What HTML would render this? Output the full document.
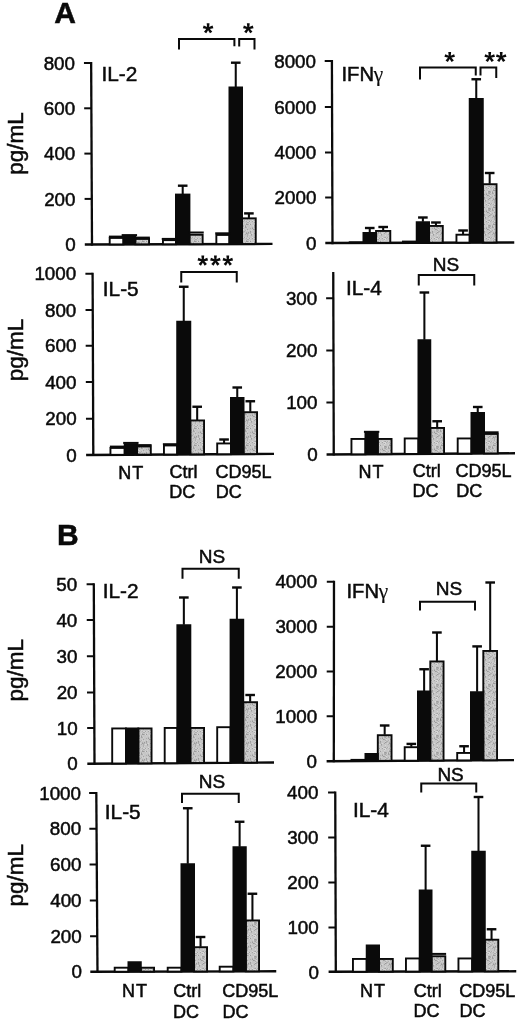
<!DOCTYPE html>
<html><head><meta charset="utf-8"><title>Figure</title>
<style>
html,body{margin:0;padding:0;background:#ffffff;}
body{width:520px;height:1022px;overflow:hidden;font-family:'Liberation Sans', sans-serif;}
svg{display:block;filter:grayscale(1) blur(0.35px);}
svg text{font-family:'Liberation Sans',sans-serif;fill:#0a0a0a;stroke:#0a0a0a;stroke-width:0.5px;}
</style></head>
<body>
<svg width="520" height="1022" viewBox="0 0 520 1022">
<defs>
<pattern id="stip" width="13" height="17" patternUnits="userSpaceOnUse">
<rect width="13" height="17" fill="#c6c6c6"/>
<rect x="0" y="0" width="1" height="1" fill="#d2d2d2"/>
<rect x="1" y="0" width="1" height="1" fill="#d2d2d2"/>
<rect x="2" y="0" width="1" height="1" fill="#a4a4a4"/>
<rect x="3" y="0" width="1" height="1" fill="#d2d2d2"/>
<rect x="5" y="0" width="1" height="1" fill="#a4a4a4"/>
<rect x="6" y="0" width="1" height="1" fill="#d2d2d2"/>
<rect x="7" y="0" width="1" height="1" fill="#d8d8d8"/>
<rect x="8" y="0" width="1" height="1" fill="#d8d8d8"/>
<rect x="9" y="0" width="1" height="1" fill="#adadad"/>
<rect x="12" y="0" width="1" height="1" fill="#b0b0b0"/>
<rect x="0" y="1" width="1" height="1" fill="#adadad"/>
<rect x="1" y="1" width="1" height="1" fill="#adadad"/>
<rect x="2" y="1" width="1" height="1" fill="#d2d2d2"/>
<rect x="7" y="1" width="1" height="1" fill="#adadad"/>
<rect x="8" y="1" width="1" height="1" fill="#d8d8d8"/>
<rect x="4" y="2" width="1" height="1" fill="#d2d2d2"/>
<rect x="7" y="2" width="1" height="1" fill="#d8d8d8"/>
<rect x="8" y="2" width="1" height="1" fill="#cccccc"/>
<rect x="11" y="2" width="1" height="1" fill="#d2d2d2"/>
<rect x="12" y="2" width="1" height="1" fill="#b0b0b0"/>
<rect x="0" y="3" width="1" height="1" fill="#9b9b9b"/>
<rect x="1" y="3" width="1" height="1" fill="#b0b0b0"/>
<rect x="2" y="3" width="1" height="1" fill="#d8d8d8"/>
<rect x="3" y="3" width="1" height="1" fill="#9b9b9b"/>
<rect x="4" y="3" width="1" height="1" fill="#cccccc"/>
<rect x="12" y="3" width="1" height="1" fill="#9b9b9b"/>
<rect x="3" y="4" width="1" height="1" fill="#cccccc"/>
<rect x="5" y="4" width="1" height="1" fill="#cccccc"/>
<rect x="6" y="4" width="1" height="1" fill="#d8d8d8"/>
<rect x="7" y="4" width="1" height="1" fill="#a4a4a4"/>
<rect x="8" y="4" width="1" height="1" fill="#9b9b9b"/>
<rect x="9" y="4" width="1" height="1" fill="#adadad"/>
<rect x="10" y="4" width="1" height="1" fill="#cccccc"/>
<rect x="11" y="4" width="1" height="1" fill="#b0b0b0"/>
<rect x="12" y="4" width="1" height="1" fill="#cccccc"/>
<rect x="3" y="5" width="1" height="1" fill="#cccccc"/>
<rect x="6" y="5" width="1" height="1" fill="#d2d2d2"/>
<rect x="7" y="5" width="1" height="1" fill="#adadad"/>
<rect x="8" y="5" width="1" height="1" fill="#adadad"/>
<rect x="9" y="5" width="1" height="1" fill="#adadad"/>
<rect x="10" y="5" width="1" height="1" fill="#d2d2d2"/>
<rect x="11" y="5" width="1" height="1" fill="#9b9b9b"/>
<rect x="0" y="6" width="1" height="1" fill="#d2d2d2"/>
<rect x="5" y="6" width="1" height="1" fill="#b0b0b0"/>
<rect x="6" y="6" width="1" height="1" fill="#cccccc"/>
<rect x="7" y="6" width="1" height="1" fill="#b0b0b0"/>
<rect x="8" y="6" width="1" height="1" fill="#a4a4a4"/>
<rect x="11" y="6" width="1" height="1" fill="#a4a4a4"/>
<rect x="12" y="6" width="1" height="1" fill="#adadad"/>
<rect x="3" y="7" width="1" height="1" fill="#adadad"/>
<rect x="5" y="7" width="1" height="1" fill="#9b9b9b"/>
<rect x="9" y="7" width="1" height="1" fill="#b0b0b0"/>
<rect x="0" y="8" width="1" height="1" fill="#a4a4a4"/>
<rect x="6" y="8" width="1" height="1" fill="#9b9b9b"/>
<rect x="7" y="8" width="1" height="1" fill="#a4a4a4"/>
<rect x="9" y="8" width="1" height="1" fill="#d8d8d8"/>
<rect x="12" y="8" width="1" height="1" fill="#cccccc"/>
<rect x="1" y="9" width="1" height="1" fill="#d2d2d2"/>
<rect x="4" y="9" width="1" height="1" fill="#d2d2d2"/>
<rect x="8" y="9" width="1" height="1" fill="#adadad"/>
<rect x="11" y="9" width="1" height="1" fill="#b0b0b0"/>
<rect x="12" y="9" width="1" height="1" fill="#d2d2d2"/>
<rect x="3" y="10" width="1" height="1" fill="#9b9b9b"/>
<rect x="8" y="10" width="1" height="1" fill="#d2d2d2"/>
<rect x="9" y="10" width="1" height="1" fill="#b0b0b0"/>
<rect x="10" y="10" width="1" height="1" fill="#adadad"/>
<rect x="1" y="11" width="1" height="1" fill="#9b9b9b"/>
<rect x="3" y="11" width="1" height="1" fill="#a4a4a4"/>
<rect x="8" y="11" width="1" height="1" fill="#9b9b9b"/>
<rect x="9" y="11" width="1" height="1" fill="#b0b0b0"/>
<rect x="12" y="11" width="1" height="1" fill="#adadad"/>
<rect x="0" y="12" width="1" height="1" fill="#adadad"/>
<rect x="1" y="12" width="1" height="1" fill="#b0b0b0"/>
<rect x="3" y="12" width="1" height="1" fill="#b0b0b0"/>
<rect x="5" y="12" width="1" height="1" fill="#d8d8d8"/>
<rect x="7" y="12" width="1" height="1" fill="#a4a4a4"/>
<rect x="10" y="12" width="1" height="1" fill="#d2d2d2"/>
<rect x="12" y="12" width="1" height="1" fill="#9b9b9b"/>
<rect x="0" y="13" width="1" height="1" fill="#adadad"/>
<rect x="2" y="13" width="1" height="1" fill="#d8d8d8"/>
<rect x="3" y="13" width="1" height="1" fill="#d2d2d2"/>
<rect x="4" y="13" width="1" height="1" fill="#9b9b9b"/>
<rect x="11" y="13" width="1" height="1" fill="#adadad"/>
<rect x="0" y="14" width="1" height="1" fill="#b0b0b0"/>
<rect x="4" y="14" width="1" height="1" fill="#adadad"/>
<rect x="8" y="14" width="1" height="1" fill="#d8d8d8"/>
<rect x="0" y="15" width="1" height="1" fill="#adadad"/>
<rect x="1" y="15" width="1" height="1" fill="#d2d2d2"/>
<rect x="5" y="16" width="1" height="1" fill="#d8d8d8"/>
<rect x="7" y="16" width="1" height="1" fill="#b0b0b0"/>
<rect x="8" y="16" width="1" height="1" fill="#a4a4a4"/>
<rect x="9" y="16" width="1" height="1" fill="#cccccc"/>
<rect x="10" y="16" width="1" height="1" fill="#adadad"/>
<rect x="11" y="16" width="1" height="1" fill="#d2d2d2"/>
</pattern>
</defs>
<rect width="520" height="1022" fill="#ffffff"/>
<text x="54.20" y="23.40" font-size="30" text-anchor="start" font-weight="bold" >A</text>
<line x1="91.15" y1="61.90" x2="92.00" y2="245.62" stroke="#0a0a0a" stroke-width="2.3" stroke-linecap="butt"/>
<line x1="84.80" y1="244.50" x2="272.50" y2="243.90" stroke="#0a0a0a" stroke-width="2.4" stroke-linecap="butt"/>
<line x1="83.95" y1="63.00" x2="91.15" y2="63.00" stroke="#0a0a0a" stroke-width="2.0" stroke-linecap="butt"/>
<text x="75.00" y="69.70" font-size="18.8" text-anchor="end" font-weight="normal" >800</text>
<line x1="84.16" y1="108.30" x2="91.36" y2="108.30" stroke="#0a0a0a" stroke-width="2.0" stroke-linecap="butt"/>
<text x="75.17" y="115.00" font-size="18.8" text-anchor="end" font-weight="normal" >600</text>
<line x1="84.37" y1="153.60" x2="91.57" y2="153.60" stroke="#0a0a0a" stroke-width="2.0" stroke-linecap="butt"/>
<text x="75.34" y="160.30" font-size="18.8" text-anchor="end" font-weight="normal" >400</text>
<line x1="84.59" y1="198.90" x2="91.79" y2="198.90" stroke="#0a0a0a" stroke-width="2.0" stroke-linecap="butt"/>
<text x="75.51" y="205.60" font-size="18.8" text-anchor="end" font-weight="normal" >200</text>
<text x="75.68" y="250.90" font-size="18.8" text-anchor="end" font-weight="normal" >0</text>
<rect x="109.70" y="237.95" width="13.75" height="6.45" fill="#ffffff" stroke="#0a0a0a" stroke-width="1.9"/>
<rect x="135.30" y="238.95" width="13.75" height="5.36" fill="url(#stip)" stroke="#0a0a0a" stroke-width="1.9"/>
<rect x="122.50" y="235.50" width="13.75" height="8.86" fill="#0a0a0a"/>
<line x1="108.88" y1="236.60" x2="124.28" y2="236.60" stroke="#0a0a0a" stroke-width="2.0" stroke-linecap="butt"/>
<line x1="121.67" y1="235.10" x2="137.07" y2="235.10" stroke="#0a0a0a" stroke-width="2.0" stroke-linecap="butt"/>
<line x1="134.48" y1="237.60" x2="149.88" y2="237.60" stroke="#0a0a0a" stroke-width="2.0" stroke-linecap="butt"/>
<rect x="162.95" y="240.15" width="13.00" height="4.08" fill="#ffffff" stroke="#0a0a0a" stroke-width="1.9"/>
<rect x="189.45" y="234.75" width="13.20" height="9.39" fill="url(#stip)" stroke="#0a0a0a" stroke-width="1.9"/>
<rect x="175.00" y="193.60" width="15.40" height="50.59" fill="#0a0a0a"/>
<line x1="161.75" y1="238.90" x2="177.15" y2="238.90" stroke="#0a0a0a" stroke-width="2.0" stroke-linecap="butt"/>
<line x1="182.70" y1="185.70" x2="182.70" y2="194.10" stroke="#0a0a0a" stroke-width="2.05" stroke-linecap="butt"/>
<line x1="177.90" y1="185.70" x2="187.50" y2="185.70" stroke="#0a0a0a" stroke-width="2.4" stroke-linecap="butt"/>
<line x1="188.35" y1="232.50" x2="203.75" y2="232.50" stroke="#0a0a0a" stroke-width="2.0" stroke-linecap="butt"/>
<rect x="216.35" y="234.95" width="13.10" height="9.11" fill="#ffffff" stroke="#0a0a0a" stroke-width="1.9"/>
<rect x="242.05" y="218.35" width="13.70" height="25.63" fill="url(#stip)" stroke="#0a0a0a" stroke-width="1.9"/>
<rect x="228.50" y="86.50" width="14.50" height="157.52" fill="#0a0a0a"/>
<line x1="215.20" y1="233.30" x2="230.60" y2="233.30" stroke="#0a0a0a" stroke-width="2.0" stroke-linecap="butt"/>
<line x1="235.75" y1="62.70" x2="235.75" y2="87.00" stroke="#0a0a0a" stroke-width="2.05" stroke-linecap="butt"/>
<line x1="230.95" y1="62.70" x2="240.55" y2="62.70" stroke="#0a0a0a" stroke-width="2.4" stroke-linecap="butt"/>
<line x1="248.90" y1="213.40" x2="248.90" y2="217.90" stroke="#0a0a0a" stroke-width="2.05" stroke-linecap="butt"/>
<line x1="244.10" y1="213.40" x2="253.70" y2="213.40" stroke="#0a0a0a" stroke-width="2.4" stroke-linecap="butt"/>
<polyline points="179.00,49.60 179.00,39.00 234.40,39.00 234.40,46.20" fill="none" stroke="#0a0a0a" stroke-width="2.0" stroke-linejoin="miter"/>
<polyline points="239.20,46.40 239.20,39.00 254.50,39.00 254.50,49.40" fill="none" stroke="#0a0a0a" stroke-width="2.0" stroke-linejoin="miter"/>
<polygon points="207.15,28.40 206.70,23.30 209.50,23.30 209.05,28.40" fill="#0a0a0a"/>
<polygon points="207.81,29.30 202.82,28.16 203.68,25.49 208.39,27.50" fill="#0a0a0a"/>
<polygon points="208.87,28.96 206.23,33.35 203.97,31.70 207.33,27.84" fill="#0a0a0a"/>
<polygon points="208.87,27.84 212.23,31.70 209.97,33.35 207.33,28.96" fill="#0a0a0a"/>
<polygon points="207.81,27.50 212.52,25.49 213.38,28.16 208.39,29.30" fill="#0a0a0a"/>
<circle cx="208.10" cy="28.40" r="1.55" fill="#0a0a0a"/>
<polygon points="247.35,28.40 246.90,23.30 249.70,23.30 249.25,28.40" fill="#0a0a0a"/>
<polygon points="248.01,29.30 243.02,28.16 243.88,25.49 248.59,27.50" fill="#0a0a0a"/>
<polygon points="249.07,28.96 246.43,33.35 244.17,31.70 247.53,27.84" fill="#0a0a0a"/>
<polygon points="249.07,27.84 252.43,31.70 250.17,33.35 247.53,28.96" fill="#0a0a0a"/>
<polygon points="248.01,27.50 252.72,25.49 253.58,28.16 248.59,29.30" fill="#0a0a0a"/>
<circle cx="248.30" cy="28.40" r="1.55" fill="#0a0a0a"/>
<text x="101.40" y="81.30" font-size="20.8" text-anchor="start" font-weight="normal" >IL-2</text>
<text transform="translate(22.60,143.50) rotate(-90)" font-size="22.5" text-anchor="middle">pg/mL</text>
<line x1="331.90" y1="59.90" x2="332.50" y2="244.13" stroke="#0a0a0a" stroke-width="2.3" stroke-linecap="butt"/>
<line x1="325.30" y1="243.00" x2="514.25" y2="242.50" stroke="#0a0a0a" stroke-width="2.4" stroke-linecap="butt"/>
<line x1="324.70" y1="61.00" x2="331.90" y2="61.00" stroke="#0a0a0a" stroke-width="2.0" stroke-linecap="butt"/>
<text x="316.00" y="67.70" font-size="18.8" text-anchor="end" font-weight="normal" >8000</text>
<line x1="324.85" y1="107.00" x2="332.05" y2="107.00" stroke="#0a0a0a" stroke-width="2.0" stroke-linecap="butt"/>
<text x="316.12" y="113.70" font-size="18.8" text-anchor="end" font-weight="normal" >6000</text>
<line x1="325.00" y1="152.50" x2="332.20" y2="152.50" stroke="#0a0a0a" stroke-width="2.0" stroke-linecap="butt"/>
<text x="316.24" y="159.20" font-size="18.8" text-anchor="end" font-weight="normal" >4000</text>
<line x1="325.15" y1="197.50" x2="332.35" y2="197.50" stroke="#0a0a0a" stroke-width="2.0" stroke-linecap="butt"/>
<text x="316.36" y="204.20" font-size="18.8" text-anchor="end" font-weight="normal" >2000</text>
<text x="316.48" y="249.70" font-size="18.8" text-anchor="end" font-weight="normal" >0</text>
<rect x="348.75" y="241.30" width="15.65" height="1.62" fill="#0a0a0a"/>
<rect x="376.05" y="230.95" width="14.25" height="11.90" fill="url(#stip)" stroke="#0a0a0a" stroke-width="1.9"/>
<rect x="362.50" y="232.00" width="14.50" height="10.88" fill="#0a0a0a"/>
<line x1="369.75" y1="228.00" x2="369.75" y2="232.50" stroke="#0a0a0a" stroke-width="2.05" stroke-linecap="butt"/>
<line x1="364.95" y1="228.00" x2="374.55" y2="228.00" stroke="#0a0a0a" stroke-width="2.4" stroke-linecap="butt"/>
<line x1="383.18" y1="227.00" x2="383.18" y2="230.50" stroke="#0a0a0a" stroke-width="2.05" stroke-linecap="butt"/>
<line x1="378.38" y1="227.00" x2="387.98" y2="227.00" stroke="#0a0a0a" stroke-width="2.4" stroke-linecap="butt"/>
<rect x="402.00" y="240.60" width="15.65" height="2.18" fill="#0a0a0a"/>
<rect x="429.05" y="225.95" width="13.75" height="16.76" fill="url(#stip)" stroke="#0a0a0a" stroke-width="1.9"/>
<rect x="415.75" y="221.25" width="14.25" height="21.49" fill="#0a0a0a"/>
<line x1="422.88" y1="217.50" x2="422.88" y2="221.75" stroke="#0a0a0a" stroke-width="2.05" stroke-linecap="butt"/>
<line x1="418.07" y1="217.50" x2="427.68" y2="217.50" stroke="#0a0a0a" stroke-width="2.4" stroke-linecap="butt"/>
<line x1="435.93" y1="222.50" x2="435.93" y2="225.50" stroke="#0a0a0a" stroke-width="2.05" stroke-linecap="butt"/>
<line x1="431.12" y1="222.50" x2="440.73" y2="222.50" stroke="#0a0a0a" stroke-width="2.4" stroke-linecap="butt"/>
<rect x="456.45" y="234.70" width="13.25" height="7.93" fill="#ffffff" stroke="#0a0a0a" stroke-width="1.9"/>
<rect x="482.80" y="184.20" width="13.75" height="58.36" fill="url(#stip)" stroke="#0a0a0a" stroke-width="1.9"/>
<rect x="468.75" y="98.00" width="15.00" height="144.60" fill="#0a0a0a"/>
<line x1="463.07" y1="230.50" x2="463.07" y2="234.25" stroke="#0a0a0a" stroke-width="2.05" stroke-linecap="butt"/>
<line x1="458.27" y1="230.50" x2="467.88" y2="230.50" stroke="#0a0a0a" stroke-width="2.4" stroke-linecap="butt"/>
<line x1="476.25" y1="79.25" x2="476.25" y2="98.50" stroke="#0a0a0a" stroke-width="2.05" stroke-linecap="butt"/>
<line x1="471.45" y1="79.25" x2="481.05" y2="79.25" stroke="#0a0a0a" stroke-width="2.4" stroke-linecap="butt"/>
<line x1="489.68" y1="173.00" x2="489.68" y2="183.75" stroke="#0a0a0a" stroke-width="2.05" stroke-linecap="butt"/>
<line x1="484.88" y1="173.00" x2="494.48" y2="173.00" stroke="#0a0a0a" stroke-width="2.4" stroke-linecap="butt"/>
<polyline points="420.00,79.50 420.00,67.50 475.75,67.50 475.75,75.50" fill="none" stroke="#0a0a0a" stroke-width="2.0" stroke-linejoin="miter"/>
<polyline points="480.50,75.50 480.50,67.50 496.25,67.50 496.25,78.00" fill="none" stroke="#0a0a0a" stroke-width="2.0" stroke-linejoin="miter"/>
<polygon points="448.75,57.10 448.30,52.00 451.10,52.00 450.65,57.10" fill="#0a0a0a"/>
<polygon points="449.41,58.00 444.42,56.86 445.28,54.19 449.99,56.20" fill="#0a0a0a"/>
<polygon points="450.47,57.66 447.83,62.05 445.57,60.40 448.93,56.54" fill="#0a0a0a"/>
<polygon points="450.47,56.54 453.83,60.40 451.57,62.05 448.93,57.66" fill="#0a0a0a"/>
<polygon points="449.41,56.20 454.12,54.19 454.98,56.86 449.99,58.00" fill="#0a0a0a"/>
<circle cx="449.70" cy="57.10" r="1.55" fill="#0a0a0a"/>
<polygon points="488.75,57.10 488.30,52.00 491.10,52.00 490.65,57.10" fill="#0a0a0a"/>
<polygon points="489.41,58.00 484.42,56.86 485.28,54.19 489.99,56.20" fill="#0a0a0a"/>
<polygon points="490.47,57.66 487.83,62.05 485.57,60.40 488.93,56.54" fill="#0a0a0a"/>
<polygon points="490.47,56.54 493.83,60.40 491.57,62.05 488.93,57.66" fill="#0a0a0a"/>
<polygon points="489.41,56.20 494.12,54.19 494.98,56.86 489.99,58.00" fill="#0a0a0a"/>
<circle cx="489.70" cy="57.10" r="1.55" fill="#0a0a0a"/>
<polygon points="500.25,57.10 499.80,52.00 502.60,52.00 502.15,57.10" fill="#0a0a0a"/>
<polygon points="500.91,58.00 495.92,56.86 496.78,54.19 501.49,56.20" fill="#0a0a0a"/>
<polygon points="501.97,57.66 499.33,62.05 497.07,60.40 500.43,56.54" fill="#0a0a0a"/>
<polygon points="501.97,56.54 505.33,60.40 503.07,62.05 500.43,57.66" fill="#0a0a0a"/>
<polygon points="500.91,56.20 505.62,54.19 506.48,56.86 501.49,58.00" fill="#0a0a0a"/>
<circle cx="501.20" cy="57.10" r="1.55" fill="#0a0a0a"/>
<text x="341.5" y="81.4" font-size="20.2">IFN<tspan dx="-0.6" stroke-width="0.1" font-family="Liberation Serif, serif" font-size="22">γ</tspan></text>
<line x1="92.60" y1="272.65" x2="93.30" y2="456.10" stroke="#0a0a0a" stroke-width="2.3" stroke-linecap="butt"/>
<line x1="86.10" y1="455.00" x2="274.00" y2="453.90" stroke="#0a0a0a" stroke-width="2.4" stroke-linecap="butt"/>
<line x1="85.40" y1="273.75" x2="92.60" y2="273.75" stroke="#0a0a0a" stroke-width="2.0" stroke-linecap="butt"/>
<text x="76.20" y="280.45" font-size="18.8" text-anchor="end" font-weight="normal" >1000</text>
<line x1="85.54" y1="310.00" x2="92.74" y2="310.00" stroke="#0a0a0a" stroke-width="2.0" stroke-linecap="butt"/>
<text x="76.31" y="316.70" font-size="18.8" text-anchor="end" font-weight="normal" >800</text>
<line x1="85.68" y1="345.75" x2="92.88" y2="345.75" stroke="#0a0a0a" stroke-width="2.0" stroke-linecap="butt"/>
<text x="76.42" y="352.45" font-size="18.8" text-anchor="end" font-weight="normal" >600</text>
<line x1="85.82" y1="382.00" x2="93.02" y2="382.00" stroke="#0a0a0a" stroke-width="2.0" stroke-linecap="butt"/>
<text x="76.53" y="388.70" font-size="18.8" text-anchor="end" font-weight="normal" >400</text>
<line x1="85.96" y1="418.75" x2="93.16" y2="418.75" stroke="#0a0a0a" stroke-width="2.0" stroke-linecap="butt"/>
<text x="76.65" y="425.45" font-size="18.8" text-anchor="end" font-weight="normal" >200</text>
<text x="76.76" y="461.70" font-size="18.8" text-anchor="end" font-weight="normal" >0</text>
<rect x="110.45" y="447.95" width="14.25" height="6.86" fill="#ffffff" stroke="#0a0a0a" stroke-width="1.9"/>
<rect x="137.05" y="446.45" width="13.75" height="8.21" fill="url(#stip)" stroke="#0a0a0a" stroke-width="1.9"/>
<rect x="123.75" y="443.25" width="14.25" height="11.48" fill="#0a0a0a"/>
<line x1="109.88" y1="446.60" x2="125.28" y2="446.60" stroke="#0a0a0a" stroke-width="2.0" stroke-linecap="butt"/>
<line x1="123.17" y1="442.90" x2="138.57" y2="442.90" stroke="#0a0a0a" stroke-width="2.0" stroke-linecap="butt"/>
<line x1="136.23" y1="445.10" x2="151.62" y2="445.10" stroke="#0a0a0a" stroke-width="2.0" stroke-linecap="butt"/>
<rect x="163.95" y="445.45" width="13.25" height="9.05" fill="#ffffff" stroke="#0a0a0a" stroke-width="1.9"/>
<rect x="190.30" y="420.45" width="13.75" height="33.90" fill="url(#stip)" stroke="#0a0a0a" stroke-width="1.9"/>
<rect x="176.25" y="320.75" width="15.00" height="133.68" fill="#0a0a0a"/>
<line x1="162.88" y1="444.20" x2="178.27" y2="444.20" stroke="#0a0a0a" stroke-width="2.0" stroke-linecap="butt"/>
<line x1="183.75" y1="286.75" x2="183.75" y2="321.25" stroke="#0a0a0a" stroke-width="2.05" stroke-linecap="butt"/>
<line x1="178.95" y1="286.75" x2="188.55" y2="286.75" stroke="#0a0a0a" stroke-width="2.4" stroke-linecap="butt"/>
<line x1="197.18" y1="406.75" x2="197.18" y2="420.00" stroke="#0a0a0a" stroke-width="2.05" stroke-linecap="butt"/>
<line x1="192.38" y1="406.75" x2="201.98" y2="406.75" stroke="#0a0a0a" stroke-width="2.4" stroke-linecap="butt"/>
<rect x="217.20" y="443.45" width="13.75" height="10.74" fill="#ffffff" stroke="#0a0a0a" stroke-width="1.9"/>
<rect x="243.55" y="412.20" width="13.50" height="41.84" fill="url(#stip)" stroke="#0a0a0a" stroke-width="1.9"/>
<rect x="230.00" y="397.00" width="14.50" height="57.11" fill="#0a0a0a"/>
<line x1="224.07" y1="439.50" x2="224.07" y2="443.00" stroke="#0a0a0a" stroke-width="2.05" stroke-linecap="butt"/>
<line x1="219.27" y1="439.50" x2="228.88" y2="439.50" stroke="#0a0a0a" stroke-width="2.4" stroke-linecap="butt"/>
<line x1="237.25" y1="387.50" x2="237.25" y2="397.50" stroke="#0a0a0a" stroke-width="2.05" stroke-linecap="butt"/>
<line x1="232.45" y1="387.50" x2="242.05" y2="387.50" stroke="#0a0a0a" stroke-width="2.4" stroke-linecap="butt"/>
<line x1="250.30" y1="401.25" x2="250.30" y2="411.75" stroke="#0a0a0a" stroke-width="2.05" stroke-linecap="butt"/>
<line x1="245.50" y1="401.25" x2="255.10" y2="401.25" stroke="#0a0a0a" stroke-width="2.4" stroke-linecap="butt"/>
<polyline points="181.25,282.50 181.25,272.00 236.75,272.00 236.75,282.50" fill="none" stroke="#0a0a0a" stroke-width="2.0" stroke-linejoin="miter"/>
<polygon points="201.85,260.70 201.40,255.60 204.20,255.60 203.75,260.70" fill="#0a0a0a"/>
<polygon points="202.51,261.60 197.52,260.46 198.38,257.79 203.09,259.80" fill="#0a0a0a"/>
<polygon points="203.57,261.26 200.93,265.65 198.67,264.00 202.03,260.14" fill="#0a0a0a"/>
<polygon points="203.57,260.14 206.93,264.00 204.67,265.65 202.03,261.26" fill="#0a0a0a"/>
<polygon points="202.51,259.80 207.22,257.79 208.08,260.46 203.09,261.60" fill="#0a0a0a"/>
<circle cx="202.80" cy="260.70" r="1.55" fill="#0a0a0a"/>
<polygon points="214.45,260.70 214.00,255.60 216.80,255.60 216.35,260.70" fill="#0a0a0a"/>
<polygon points="215.11,261.60 210.12,260.46 210.98,257.79 215.69,259.80" fill="#0a0a0a"/>
<polygon points="216.17,261.26 213.53,265.65 211.27,264.00 214.63,260.14" fill="#0a0a0a"/>
<polygon points="216.17,260.14 219.53,264.00 217.27,265.65 214.63,261.26" fill="#0a0a0a"/>
<polygon points="215.11,259.80 219.82,257.79 220.68,260.46 215.69,261.60" fill="#0a0a0a"/>
<circle cx="215.40" cy="260.70" r="1.55" fill="#0a0a0a"/>
<polygon points="226.85,260.70 226.40,255.60 229.20,255.60 228.75,260.70" fill="#0a0a0a"/>
<polygon points="227.51,261.60 222.52,260.46 223.38,257.79 228.09,259.80" fill="#0a0a0a"/>
<polygon points="228.57,261.26 225.93,265.65 223.67,264.00 227.03,260.14" fill="#0a0a0a"/>
<polygon points="228.57,260.14 231.93,264.00 229.67,265.65 227.03,261.26" fill="#0a0a0a"/>
<polygon points="227.51,259.80 232.22,257.79 233.08,260.46 228.09,261.60" fill="#0a0a0a"/>
<circle cx="227.80" cy="260.70" r="1.55" fill="#0a0a0a"/>
<text x="102.80" y="296.00" font-size="20.8" text-anchor="start" font-weight="normal" >IL-5</text>
<text transform="translate(22.60,350.00) rotate(-90)" font-size="22.5" text-anchor="middle">pg/mL</text>
<text x="131.25" y="478.60" font-size="18" text-anchor="middle" font-weight="normal" letter-spacing="1">NT</text>
<text x="169.60" y="478.20" font-size="18" text-anchor="start" font-weight="normal" >Ctrl</text>
<text x="169.20" y="497.60" font-size="18" text-anchor="start" font-weight="normal" >DC</text>
<text x="215.40" y="478.20" font-size="18" text-anchor="start" font-weight="normal" >CD95L</text>
<text x="215.70" y="497.60" font-size="18" text-anchor="start" font-weight="normal" >DC</text>
<line x1="333.25" y1="272.00" x2="333.75" y2="455.60" stroke="#0a0a0a" stroke-width="2.3" stroke-linecap="butt"/>
<line x1="326.55" y1="454.50" x2="515.00" y2="453.30" stroke="#0a0a0a" stroke-width="2.4" stroke-linecap="butt"/>
<line x1="326.12" y1="298.25" x2="333.32" y2="298.25" stroke="#0a0a0a" stroke-width="2.0" stroke-linecap="butt"/>
<text x="317.26" y="304.95" font-size="18.8" text-anchor="end" font-weight="normal" >300</text>
<line x1="326.27" y1="350.50" x2="333.47" y2="350.50" stroke="#0a0a0a" stroke-width="2.0" stroke-linecap="butt"/>
<text x="317.37" y="357.20" font-size="18.8" text-anchor="end" font-weight="normal" >200</text>
<line x1="326.41" y1="402.50" x2="333.61" y2="402.50" stroke="#0a0a0a" stroke-width="2.0" stroke-linecap="butt"/>
<text x="317.49" y="409.20" font-size="18.8" text-anchor="end" font-weight="normal" >100</text>
<text x="317.60" y="461.20" font-size="18.8" text-anchor="end" font-weight="normal" >0</text>
<rect x="351.45" y="438.95" width="14.00" height="15.34" fill="#ffffff" stroke="#0a0a0a" stroke-width="1.9"/>
<rect x="377.80" y="438.95" width="13.75" height="15.18" fill="url(#stip)" stroke="#0a0a0a" stroke-width="1.9"/>
<rect x="364.50" y="432.00" width="14.25" height="22.21" fill="#0a0a0a"/>
<line x1="363.93" y1="431.80" x2="379.32" y2="431.80" stroke="#0a0a0a" stroke-width="2.0" stroke-linecap="butt"/>
<rect x="404.70" y="438.45" width="13.75" height="15.51" fill="#ffffff" stroke="#0a0a0a" stroke-width="1.9"/>
<rect x="430.30" y="427.95" width="13.75" height="25.84" fill="url(#stip)" stroke="#0a0a0a" stroke-width="1.9"/>
<rect x="417.50" y="339.25" width="13.75" height="114.63" fill="#0a0a0a"/>
<line x1="424.38" y1="292.50" x2="424.38" y2="339.75" stroke="#0a0a0a" stroke-width="2.05" stroke-linecap="butt"/>
<line x1="419.57" y1="292.50" x2="429.18" y2="292.50" stroke="#0a0a0a" stroke-width="2.4" stroke-linecap="butt"/>
<line x1="437.18" y1="421.25" x2="437.18" y2="427.50" stroke="#0a0a0a" stroke-width="2.05" stroke-linecap="butt"/>
<line x1="432.38" y1="421.25" x2="441.98" y2="421.25" stroke="#0a0a0a" stroke-width="2.4" stroke-linecap="butt"/>
<rect x="457.70" y="438.45" width="13.75" height="15.17" fill="#ffffff" stroke="#0a0a0a" stroke-width="1.9"/>
<rect x="484.05" y="433.95" width="13.75" height="19.50" fill="url(#stip)" stroke="#0a0a0a" stroke-width="1.9"/>
<rect x="470.50" y="412.00" width="14.50" height="41.54" fill="#0a0a0a"/>
<line x1="477.75" y1="407.00" x2="477.75" y2="412.50" stroke="#0a0a0a" stroke-width="2.05" stroke-linecap="butt"/>
<line x1="472.95" y1="407.00" x2="482.55" y2="407.00" stroke="#0a0a0a" stroke-width="2.4" stroke-linecap="butt"/>
<line x1="483.23" y1="432.30" x2="498.62" y2="432.30" stroke="#0a0a0a" stroke-width="2.0" stroke-linecap="butt"/>
<polyline points="418.75,285.50 418.75,275.00 474.25,275.00 474.25,285.50" fill="none" stroke="#0a0a0a" stroke-width="2.0" stroke-linejoin="miter"/>
<text x="445.90" y="270.80" font-size="19" text-anchor="middle" font-weight="normal" >NS</text>
<text x="346.00" y="294.80" font-size="20.8" text-anchor="start" font-weight="normal" >IL-4</text>
<text x="371.50" y="478.20" font-size="18" text-anchor="middle" font-weight="normal" letter-spacing="1">NT</text>
<text x="412.80" y="476.90" font-size="18" text-anchor="start" font-weight="normal" >Ctrl</text>
<text x="412.40" y="497.10" font-size="18" text-anchor="start" font-weight="normal" >DC</text>
<text x="455.40" y="476.90" font-size="18" text-anchor="start" font-weight="normal" >CD95L</text>
<text x="456.20" y="497.10" font-size="18" text-anchor="start" font-weight="normal" >DC</text>
<text x="56.90" y="545.00" font-size="30" text-anchor="start" font-weight="bold" >B</text>
<line x1="93.80" y1="583.15" x2="94.50" y2="764.80" stroke="#0a0a0a" stroke-width="2.3" stroke-linecap="butt"/>
<line x1="87.30" y1="763.70" x2="274.00" y2="762.50" stroke="#0a0a0a" stroke-width="2.4" stroke-linecap="butt"/>
<line x1="86.60" y1="584.25" x2="93.80" y2="584.25" stroke="#0a0a0a" stroke-width="2.0" stroke-linecap="butt"/>
<text x="77.20" y="590.95" font-size="18.8" text-anchor="end" font-weight="normal" >50</text>
<line x1="86.74" y1="620.00" x2="93.94" y2="620.00" stroke="#0a0a0a" stroke-width="2.0" stroke-linecap="butt"/>
<text x="77.31" y="626.70" font-size="18.8" text-anchor="end" font-weight="normal" >40</text>
<line x1="86.88" y1="656.25" x2="94.08" y2="656.25" stroke="#0a0a0a" stroke-width="2.0" stroke-linecap="butt"/>
<text x="77.42" y="662.95" font-size="18.8" text-anchor="end" font-weight="normal" >30</text>
<line x1="87.02" y1="692.50" x2="94.22" y2="692.50" stroke="#0a0a0a" stroke-width="2.0" stroke-linecap="butt"/>
<text x="77.54" y="699.20" font-size="18.8" text-anchor="end" font-weight="normal" >20</text>
<line x1="87.16" y1="728.00" x2="94.36" y2="728.00" stroke="#0a0a0a" stroke-width="2.0" stroke-linecap="butt"/>
<text x="77.65" y="734.70" font-size="18.8" text-anchor="end" font-weight="normal" >10</text>
<text x="77.76" y="770.45" font-size="18.8" text-anchor="end" font-weight="normal" >0</text>
<rect x="112.20" y="728.45" width="13.75" height="35.04" fill="#ffffff" stroke="#0a0a0a" stroke-width="1.9"/>
<rect x="138.30" y="728.45" width="13.25" height="34.88" fill="url(#stip)" stroke="#0a0a0a" stroke-width="1.9"/>
<rect x="125.00" y="727.50" width="14.25" height="35.91" fill="#0a0a0a"/>
<rect x="164.70" y="727.95" width="12.65" height="35.21" fill="#ffffff" stroke="#0a0a0a" stroke-width="1.9"/>
<rect x="190.35" y="727.95" width="13.70" height="35.04" fill="url(#stip)" stroke="#0a0a0a" stroke-width="1.9"/>
<rect x="176.40" y="624.25" width="14.90" height="138.83" fill="#0a0a0a"/>
<line x1="183.85" y1="597.50" x2="183.85" y2="624.75" stroke="#0a0a0a" stroke-width="2.05" stroke-linecap="butt"/>
<line x1="179.05" y1="597.50" x2="188.65" y2="597.50" stroke="#0a0a0a" stroke-width="2.4" stroke-linecap="butt"/>
<rect x="217.20" y="727.20" width="13.35" height="35.62" fill="#ffffff" stroke="#0a0a0a" stroke-width="1.9"/>
<rect x="243.25" y="702.20" width="13.80" height="60.45" fill="url(#stip)" stroke="#0a0a0a" stroke-width="1.9"/>
<rect x="229.60" y="618.75" width="14.60" height="143.99" fill="#0a0a0a"/>
<line x1="236.90" y1="587.50" x2="236.90" y2="619.25" stroke="#0a0a0a" stroke-width="2.05" stroke-linecap="butt"/>
<line x1="232.10" y1="587.50" x2="241.70" y2="587.50" stroke="#0a0a0a" stroke-width="2.4" stroke-linecap="butt"/>
<line x1="250.15" y1="695.00" x2="250.15" y2="701.75" stroke="#0a0a0a" stroke-width="2.05" stroke-linecap="butt"/>
<line x1="245.35" y1="695.00" x2="254.95" y2="695.00" stroke="#0a0a0a" stroke-width="2.4" stroke-linecap="butt"/>
<polyline points="182.50,578.75 182.50,568.75 238.75,568.75 238.75,578.75" fill="none" stroke="#0a0a0a" stroke-width="2.0" stroke-linejoin="miter"/>
<text x="211.90" y="563.00" font-size="19" text-anchor="middle" font-weight="normal" >NS</text>
<text x="102.70" y="598.00" font-size="20.8" text-anchor="start" font-weight="normal" >IL-2</text>
<text transform="translate(22.60,670.30) rotate(-90)" font-size="22.5" text-anchor="middle">pg/mL</text>
<line x1="334.00" y1="580.65" x2="333.80" y2="762.31" stroke="#0a0a0a" stroke-width="2.3" stroke-linecap="butt"/>
<line x1="326.60" y1="761.20" x2="514.00" y2="760.10" stroke="#0a0a0a" stroke-width="2.4" stroke-linecap="butt"/>
<line x1="326.80" y1="581.75" x2="334.00" y2="581.75" stroke="#0a0a0a" stroke-width="2.0" stroke-linecap="butt"/>
<text x="317.20" y="588.45" font-size="18.8" text-anchor="end" font-weight="normal" >4000</text>
<line x1="326.75" y1="626.75" x2="333.95" y2="626.75" stroke="#0a0a0a" stroke-width="2.0" stroke-linecap="butt"/>
<text x="317.16" y="633.45" font-size="18.8" text-anchor="end" font-weight="normal" >3000</text>
<line x1="326.70" y1="671.50" x2="333.90" y2="671.50" stroke="#0a0a0a" stroke-width="2.0" stroke-linecap="butt"/>
<text x="317.12" y="678.20" font-size="18.8" text-anchor="end" font-weight="normal" >2000</text>
<line x1="326.65" y1="716.25" x2="333.85" y2="716.25" stroke="#0a0a0a" stroke-width="2.0" stroke-linecap="butt"/>
<text x="317.08" y="722.95" font-size="18.8" text-anchor="end" font-weight="normal" >1000</text>
<text x="317.04" y="767.95" font-size="18.8" text-anchor="end" font-weight="normal" >0</text>
<rect x="350.50" y="758.90" width="15.90" height="2.11" fill="#0a0a0a"/>
<rect x="377.80" y="735.20" width="13.75" height="25.66" fill="url(#stip)" stroke="#0a0a0a" stroke-width="1.9"/>
<rect x="364.50" y="753.00" width="14.25" height="7.94" fill="#0a0a0a"/>
<line x1="384.68" y1="725.50" x2="384.68" y2="734.75" stroke="#0a0a0a" stroke-width="2.05" stroke-linecap="butt"/>
<line x1="379.88" y1="725.50" x2="389.48" y2="725.50" stroke="#0a0a0a" stroke-width="2.4" stroke-linecap="butt"/>
<rect x="404.70" y="747.20" width="13.25" height="13.50" fill="#ffffff" stroke="#0a0a0a" stroke-width="1.9"/>
<rect x="430.30" y="661.45" width="13.25" height="99.10" fill="url(#stip)" stroke="#0a0a0a" stroke-width="1.9"/>
<rect x="417.00" y="690.50" width="14.25" height="70.13" fill="#0a0a0a"/>
<line x1="411.32" y1="743.90" x2="411.32" y2="746.75" stroke="#0a0a0a" stroke-width="2.05" stroke-linecap="butt"/>
<line x1="406.52" y1="743.90" x2="416.12" y2="743.90" stroke="#0a0a0a" stroke-width="2.4" stroke-linecap="butt"/>
<line x1="424.12" y1="669.25" x2="424.12" y2="691.00" stroke="#0a0a0a" stroke-width="2.05" stroke-linecap="butt"/>
<line x1="419.32" y1="669.25" x2="428.93" y2="669.25" stroke="#0a0a0a" stroke-width="2.4" stroke-linecap="butt"/>
<line x1="436.93" y1="632.50" x2="436.93" y2="661.00" stroke="#0a0a0a" stroke-width="2.05" stroke-linecap="butt"/>
<line x1="432.12" y1="632.50" x2="441.73" y2="632.50" stroke="#0a0a0a" stroke-width="2.4" stroke-linecap="butt"/>
<rect x="457.20" y="752.95" width="13.75" height="7.44" fill="#ffffff" stroke="#0a0a0a" stroke-width="1.9"/>
<rect x="483.30" y="650.95" width="13.75" height="109.29" fill="url(#stip)" stroke="#0a0a0a" stroke-width="1.9"/>
<rect x="470.00" y="691.25" width="14.25" height="69.07" fill="#0a0a0a"/>
<line x1="464.07" y1="746.25" x2="464.07" y2="752.50" stroke="#0a0a0a" stroke-width="2.05" stroke-linecap="butt"/>
<line x1="459.27" y1="746.25" x2="468.88" y2="746.25" stroke="#0a0a0a" stroke-width="2.4" stroke-linecap="butt"/>
<line x1="477.12" y1="646.40" x2="477.12" y2="691.75" stroke="#0a0a0a" stroke-width="2.05" stroke-linecap="butt"/>
<line x1="472.32" y1="646.40" x2="481.93" y2="646.40" stroke="#0a0a0a" stroke-width="2.4" stroke-linecap="butt"/>
<line x1="490.18" y1="582.50" x2="490.18" y2="650.50" stroke="#0a0a0a" stroke-width="2.05" stroke-linecap="butt"/>
<line x1="485.38" y1="582.50" x2="494.98" y2="582.50" stroke="#0a0a0a" stroke-width="2.4" stroke-linecap="butt"/>
<polyline points="420.00,610.50 420.00,601.75 475.00,601.75 475.00,610.50" fill="none" stroke="#0a0a0a" stroke-width="2.0" stroke-linejoin="miter"/>
<text x="448.90" y="595.00" font-size="19" text-anchor="middle" font-weight="normal" >NS</text>
<text x="346.5" y="598.1" font-size="20.2">IFN<tspan dx="-0.6" stroke-width="0.1" font-family="Liberation Serif, serif" font-size="22">γ</tspan></text>
<line x1="96.30" y1="791.90" x2="97.50" y2="972.93" stroke="#0a0a0a" stroke-width="2.3" stroke-linecap="butt"/>
<line x1="90.30" y1="971.80" x2="276.25" y2="971.30" stroke="#0a0a0a" stroke-width="2.4" stroke-linecap="butt"/>
<line x1="89.10" y1="793.00" x2="96.30" y2="793.00" stroke="#0a0a0a" stroke-width="2.0" stroke-linecap="butt"/>
<text x="81.00" y="799.70" font-size="18.8" text-anchor="end" font-weight="normal" >1000</text>
<line x1="89.34" y1="828.75" x2="96.54" y2="828.75" stroke="#0a0a0a" stroke-width="2.0" stroke-linecap="butt"/>
<text x="81.19" y="835.45" font-size="18.8" text-anchor="end" font-weight="normal" >800</text>
<line x1="89.58" y1="864.50" x2="96.78" y2="864.50" stroke="#0a0a0a" stroke-width="2.0" stroke-linecap="butt"/>
<text x="81.38" y="871.20" font-size="18.8" text-anchor="end" font-weight="normal" >600</text>
<line x1="89.82" y1="900.50" x2="97.02" y2="900.50" stroke="#0a0a0a" stroke-width="2.0" stroke-linecap="butt"/>
<text x="81.58" y="907.20" font-size="18.8" text-anchor="end" font-weight="normal" >400</text>
<line x1="90.06" y1="936.25" x2="97.26" y2="936.25" stroke="#0a0a0a" stroke-width="2.0" stroke-linecap="butt"/>
<text x="81.77" y="942.95" font-size="18.8" text-anchor="end" font-weight="normal" >200</text>
<text x="81.96" y="978.45" font-size="18.8" text-anchor="end" font-weight="normal" >0</text>
<rect x="114.70" y="967.70" width="13.75" height="4.01" fill="#ffffff" stroke="#0a0a0a" stroke-width="1.9"/>
<rect x="140.80" y="967.70" width="13.25" height="3.94" fill="url(#stip)" stroke="#0a0a0a" stroke-width="1.9"/>
<rect x="127.50" y="961.25" width="14.25" height="10.43" fill="#0a0a0a"/>
<rect x="167.70" y="967.70" width="13.75" height="3.87" fill="#ffffff" stroke="#0a0a0a" stroke-width="1.9"/>
<rect x="194.05" y="947.20" width="13.00" height="24.30" fill="url(#stip)" stroke="#0a0a0a" stroke-width="1.9"/>
<rect x="180.50" y="863.25" width="14.50" height="108.29" fill="#0a0a0a"/>
<line x1="187.75" y1="808.25" x2="187.75" y2="863.75" stroke="#0a0a0a" stroke-width="2.05" stroke-linecap="butt"/>
<line x1="182.95" y1="808.25" x2="192.55" y2="808.25" stroke="#0a0a0a" stroke-width="2.4" stroke-linecap="butt"/>
<line x1="200.55" y1="937.00" x2="200.55" y2="946.75" stroke="#0a0a0a" stroke-width="2.05" stroke-linecap="butt"/>
<line x1="195.75" y1="937.00" x2="205.35" y2="937.00" stroke="#0a0a0a" stroke-width="2.4" stroke-linecap="butt"/>
<rect x="219.70" y="966.70" width="13.75" height="4.73" fill="#ffffff" stroke="#0a0a0a" stroke-width="1.9"/>
<rect x="245.80" y="920.45" width="13.25" height="50.91" fill="url(#stip)" stroke="#0a0a0a" stroke-width="1.9"/>
<rect x="232.50" y="846.25" width="14.25" height="125.15" fill="#0a0a0a"/>
<line x1="239.62" y1="821.75" x2="239.62" y2="846.75" stroke="#0a0a0a" stroke-width="2.05" stroke-linecap="butt"/>
<line x1="234.82" y1="821.75" x2="244.43" y2="821.75" stroke="#0a0a0a" stroke-width="2.4" stroke-linecap="butt"/>
<line x1="252.43" y1="893.75" x2="252.43" y2="920.00" stroke="#0a0a0a" stroke-width="2.05" stroke-linecap="butt"/>
<line x1="247.62" y1="893.75" x2="257.23" y2="893.75" stroke="#0a0a0a" stroke-width="2.4" stroke-linecap="butt"/>
<polyline points="182.00,803.00 182.00,793.75 238.75,793.75 238.75,803.00" fill="none" stroke="#0a0a0a" stroke-width="2.0" stroke-linejoin="miter"/>
<text x="211.90" y="787.50" font-size="19" text-anchor="middle" font-weight="normal" >NS</text>
<text x="104.80" y="818.50" font-size="20.8" text-anchor="start" font-weight="normal" >IL-5</text>
<text transform="translate(23.10,875.30) rotate(-90)" font-size="22.5" text-anchor="middle">pg/mL</text>
<text x="134.90" y="997.20" font-size="18" text-anchor="middle" font-weight="normal" letter-spacing="1">NT</text>
<text x="173.30" y="997.00" font-size="18" text-anchor="start" font-weight="normal" >Ctrl</text>
<text x="172.90" y="1017.70" font-size="18" text-anchor="start" font-weight="normal" >DC</text>
<text x="222.20" y="997.00" font-size="18" text-anchor="start" font-weight="normal" >CD95L</text>
<text x="222.40" y="1017.70" font-size="18" text-anchor="start" font-weight="normal" >DC</text>
<line x1="335.25" y1="791.40" x2="335.80" y2="972.93" stroke="#0a0a0a" stroke-width="2.3" stroke-linecap="butt"/>
<line x1="328.60" y1="971.80" x2="516.25" y2="971.30" stroke="#0a0a0a" stroke-width="2.4" stroke-linecap="butt"/>
<line x1="328.05" y1="792.50" x2="335.25" y2="792.50" stroke="#0a0a0a" stroke-width="2.0" stroke-linecap="butt"/>
<text x="318.40" y="799.20" font-size="18.8" text-anchor="end" font-weight="normal" >400</text>
<line x1="328.19" y1="837.50" x2="335.39" y2="837.50" stroke="#0a0a0a" stroke-width="2.0" stroke-linecap="butt"/>
<text x="318.51" y="844.20" font-size="18.8" text-anchor="end" font-weight="normal" >300</text>
<line x1="328.33" y1="882.50" x2="335.53" y2="882.50" stroke="#0a0a0a" stroke-width="2.0" stroke-linecap="butt"/>
<text x="318.62" y="889.20" font-size="18.8" text-anchor="end" font-weight="normal" >200</text>
<line x1="328.46" y1="927.50" x2="335.66" y2="927.50" stroke="#0a0a0a" stroke-width="2.0" stroke-linecap="butt"/>
<text x="318.73" y="934.20" font-size="18.8" text-anchor="end" font-weight="normal" >100</text>
<text x="318.84" y="978.70" font-size="18.8" text-anchor="end" font-weight="normal" >0</text>
<rect x="352.95" y="958.95" width="13.75" height="12.77" fill="#ffffff" stroke="#0a0a0a" stroke-width="1.9"/>
<rect x="379.05" y="958.95" width="13.75" height="12.70" fill="url(#stip)" stroke="#0a0a0a" stroke-width="1.9"/>
<rect x="365.75" y="944.50" width="14.25" height="27.18" fill="#0a0a0a"/>
<rect x="405.95" y="958.45" width="13.75" height="13.12" fill="#ffffff" stroke="#0a0a0a" stroke-width="1.9"/>
<rect x="431.55" y="956.25" width="13.75" height="15.26" fill="url(#stip)" stroke="#0a0a0a" stroke-width="1.9"/>
<rect x="418.75" y="889.50" width="13.75" height="82.04" fill="#0a0a0a"/>
<line x1="425.62" y1="845.75" x2="425.62" y2="890.00" stroke="#0a0a0a" stroke-width="2.05" stroke-linecap="butt"/>
<line x1="420.82" y1="845.75" x2="430.43" y2="845.75" stroke="#0a0a0a" stroke-width="2.4" stroke-linecap="butt"/>
<line x1="430.73" y1="953.90" x2="446.12" y2="953.90" stroke="#0a0a0a" stroke-width="2.0" stroke-linecap="butt"/>
<rect x="458.45" y="958.45" width="13.75" height="12.99" fill="#ffffff" stroke="#0a0a0a" stroke-width="1.9"/>
<rect x="484.80" y="939.70" width="13.50" height="31.67" fill="url(#stip)" stroke="#0a0a0a" stroke-width="1.9"/>
<rect x="471.25" y="850.75" width="14.50" height="120.65" fill="#0a0a0a"/>
<line x1="478.50" y1="797.00" x2="478.50" y2="851.25" stroke="#0a0a0a" stroke-width="2.05" stroke-linecap="butt"/>
<line x1="473.70" y1="797.00" x2="483.30" y2="797.00" stroke="#0a0a0a" stroke-width="2.4" stroke-linecap="butt"/>
<line x1="491.55" y1="929.25" x2="491.55" y2="939.25" stroke="#0a0a0a" stroke-width="2.05" stroke-linecap="butt"/>
<line x1="486.75" y1="929.25" x2="496.35" y2="929.25" stroke="#0a0a0a" stroke-width="2.4" stroke-linecap="butt"/>
<polyline points="421.25,792.50 421.25,783.60 476.25,783.60 476.25,792.50" fill="none" stroke="#0a0a0a" stroke-width="2.0" stroke-linejoin="miter"/>
<text x="450.60" y="780.50" font-size="19" text-anchor="middle" font-weight="normal" >NS</text>
<text x="353.00" y="817.00" font-size="20.8" text-anchor="start" font-weight="normal" >IL-4</text>
<text x="373.00" y="997.00" font-size="18" text-anchor="middle" font-weight="normal" letter-spacing="1">NT</text>
<text x="413.80" y="996.50" font-size="18" text-anchor="start" font-weight="normal" >Ctrl</text>
<text x="413.60" y="1016.70" font-size="18" text-anchor="start" font-weight="normal" >DC</text>
<text x="459.20" y="996.50" font-size="18" text-anchor="start" font-weight="normal" >CD95L</text>
<text x="459.40" y="1016.70" font-size="18" text-anchor="start" font-weight="normal" >DC</text>
</svg>
</body></html>
